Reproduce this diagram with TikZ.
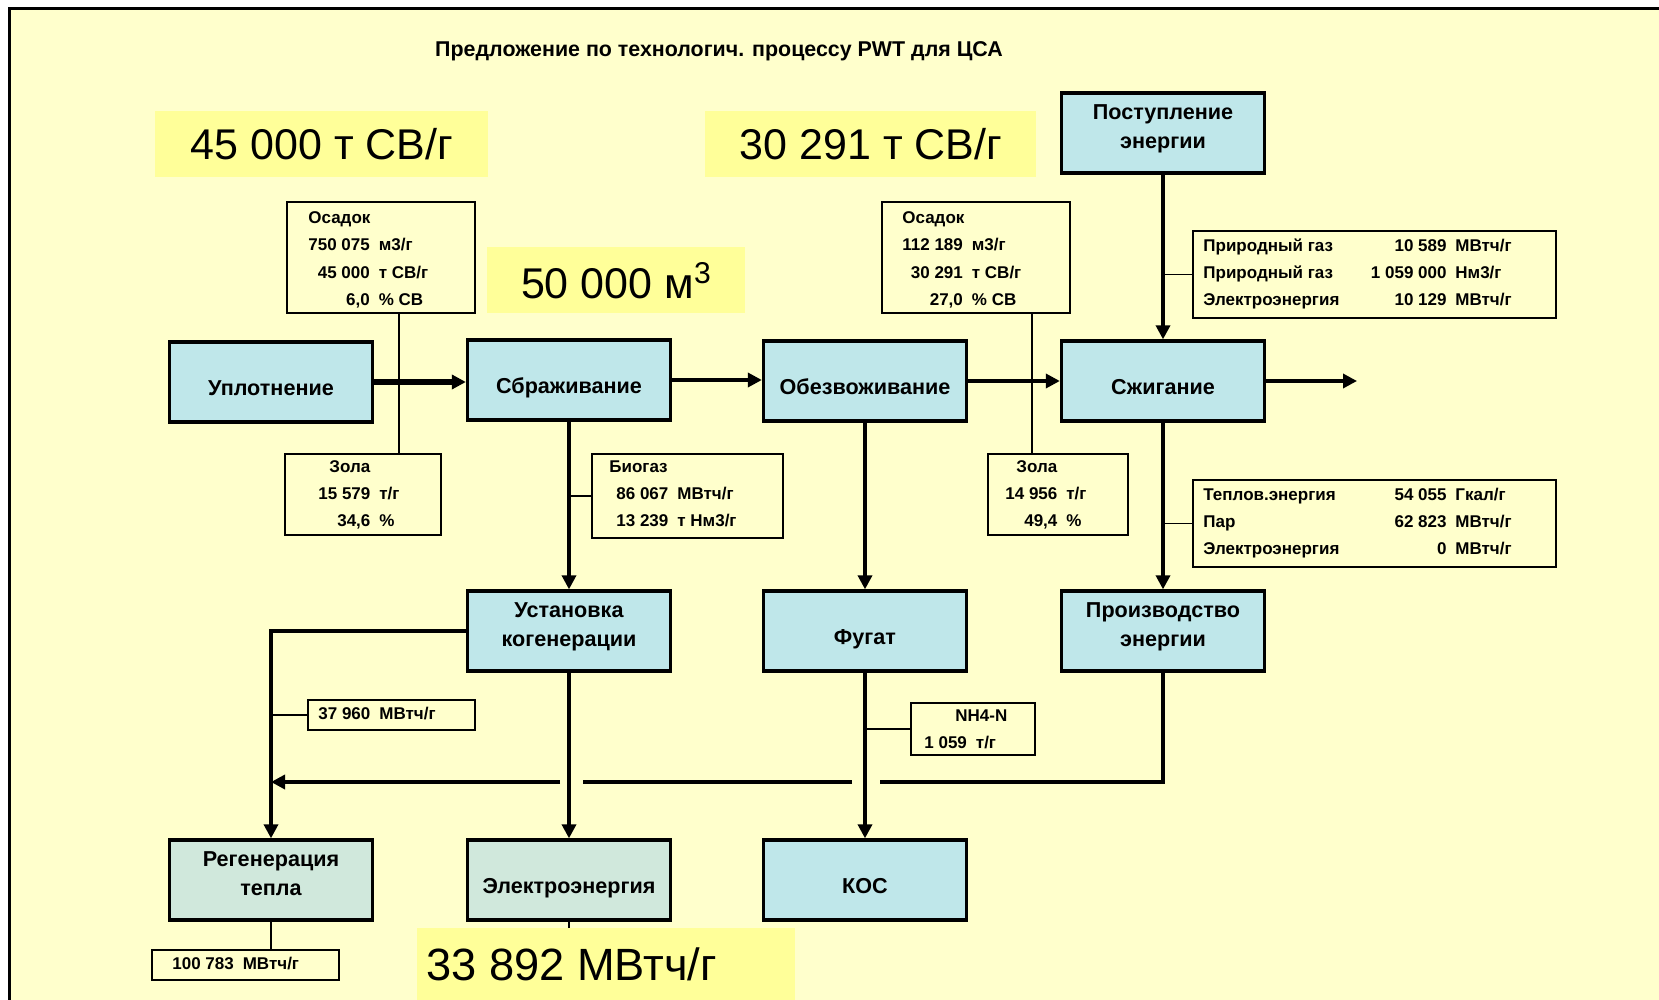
\documentclass[tikz,border=0pt]{standalone}
\usepackage{fontspec}
\setmainfont{Liberation Sans}
\usetikzlibrary{arrows.meta}
\definecolor{bgyellow}{RGB}{255,255,204}
\definecolor{hlyellow}{RGB}{255,255,153}
\definecolor{boxblue}{RGB}{191,231,234}
\definecolor{boxgreen}{RGB}{208,232,220}
\newcommand\infotab[1]{\begin{tabular}{@{}r@{\hspace{4.5pt}}l@{}}#1\end{tabular}}
\newcommand\ltab[1]{\begin{tabular}{@{}l@{}}#1\end{tabular}}
\newcommand\rtab[1]{\begin{tabular}{@{}r@{}}#1\end{tabular}}
\newcommand\twol[2]{\begin{tabular}[t]{@{}c@{}}#1\\#2\end{tabular}}
\begin{document}
\begin{tikzpicture}[x=0.5pt,y=-0.5pt,
  proc/.style={draw, line width=1.65pt, fill=boxblue, minimum width=101.5pt, minimum height=40pt,
    inner sep=0pt, font=\fontsize{10.8}{14.5}\selectfont\bfseries},
  one/.style={text height=13.8pt, text depth=0pt},
  two/.style={text height=9pt, text depth=22.7pt},
  procg/.style={proc, fill=boxgreen},
  info/.style={draw, line width=0.8pt, anchor=north west, inner sep=0pt},
  txt/.style={inner sep=0pt, font=\fontsize{8.5}{13.7}\selectfont\bfseries},
  big/.style={inner sep=0pt, font=\fontsize{22.6}{27}\selectfont},
  hlbox/.style={fill=hlyellow, anchor=north west, inner sep=0pt},
  flow/.style={line width=1.7pt, -{Triangle[length=7pt,width=7pt]}},
  flowthick/.style={line width=3pt, -{Triangle[length=7pt,width=7pt]}},
  plainflow/.style={line width=1.7pt},
  thinline/.style={line width=0.7pt},
]
\useasboundingbox (0,0) rectangle (1659,1000);
\fill[white] (0,0) rectangle (1659,1000);
\fill[bgyellow] (11,10) rectangle (1659,1000);
\fill[black] (8,7) rectangle (1659,10);
\fill[black] (8,7) rectangle (11,1000);

% title
\node[inner sep=0pt, font=\fontsize{10.7}{13}\selectfont\bfseries] (title) at (719,51)
  {Предложение по технологич. процессу PWT для ЦСА};

% highlights
\node[hlbox, minimum width=166.5pt, minimum height=33pt, font=\fontsize{21.5}{26}\selectfont] (h45) at (155,111) {45 000 т СВ/г};
\node[hlbox, minimum width=165.5pt, minimum height=33pt, font=\fontsize{21.5}{26}\selectfont] (h30) at (705,111) {30 291 т СВ/г};
\node[hlbox, minimum width=129pt, minimum height=33pt, font=\fontsize{21.5}{26}\selectfont] (h50) at (487,247) {50 000 м\textsuperscript{3}};
\node[hlbox, minimum width=189pt, minimum height=36pt] (h33) at (417,928) {};
\node[big, anchor=west] (t33) at (426,964) {33 892 МВтч/г};

% process boxes
\node[proc, one] (upl) at (271,382) {Уплотнение};
\node[proc, one] (sbr) at (569,380) {Сбраживание};
\node[proc, one] (obez) at (865,381) {Обезвоживание};
\node[proc, one] (szh) at (1163,381) {Сжигание};
\node[proc, two] (post) at (1163,133) {\twol{Поступление}{энергии}};
\node[proc, two] (ustan) at (569,631) {\twol{Установка}{когенерации}};
\node[proc, one] (fugat) at (865,631) {Фугат};
\node[proc, two] (proizv) at (1163,631) {\twol{Производство}{энергии}};
\node[procg, two] (regen) at (271,880) {\twol{Регенерация}{тепла}};
\node[procg, one] (elek) at (569,880) {Электроэнергия};
\node[proc, one] (kos) at (865,880) {КОС};

% info boxes
\node[info, minimum width=94pt, minimum height=55.5pt] (osL) at (286,201) {};
\node[txt, anchor=west] (osLt) at (308,259) {\infotab{\multicolumn{2}{@{}l@{}}{Осадок}\\ 750 075 & м3/г\\ 45 000 & т СВ/г\\ 6,0 & \% СВ}};
\node[info, minimum width=78pt, minimum height=40.5pt] (zolaL) at (284,453) {};
\node[txt, anchor=west] (zolaLt) at (318,494) {\infotab{\multicolumn{2}{@{}l@{}}{\hspace{5.5pt}Зола}\\ 15 579 & т/г\\ 34,6 & \%}};
\node[info, minimum width=95.5pt, minimum height=42pt] (bio) at (591,453) {};
\node[txt, anchor=west] (biot) at (616,494) {\infotab{\multicolumn{2}{@{}l@{}}{\hspace{-3.5pt}Биогаз}\\ 86 067 & МВтч/г\\ 13 239 & т Нм3/г}};
\node[info, minimum width=94pt, minimum height=55.5pt] (osR) at (881,201) {};
\node[txt, anchor=west] (osRt) at (902,259) {\infotab{\multicolumn{2}{@{}l@{}}{Осадок}\\ 112 189 & м3/г\\ 30 291 & т СВ/г\\ 27,0 & \% СВ}};
\node[info, minimum width=70pt, minimum height=40.5pt] (zolaR) at (987,453) {};
\node[txt, anchor=west] (zolaRt) at (1005,494) {\infotab{\multicolumn{2}{@{}l@{}}{\hspace{5.5pt}Зола}\\ 14 956 & т/г\\ 49,4 & \%}};

\node[info, minimum width=181.5pt, minimum height=43.5pt] (gas) at (1192,230) {};
\node[txt, anchor=west] (gasl) at (1203,273) {\ltab{Природный газ\\ Природный газ\\ Электроэнергия}};
\node[txt, anchor=east] (gasn) at (1447,273) {\rtab{10 589\\ 1 059 000\\ 10 129}};
\node[txt, anchor=west] (gasu) at (1455,273) {\ltab{МВтч/г\\ Нм3/г\\ МВтч/г}};

\node[info, minimum width=181.5pt, minimum height=43.5pt] (heat) at (1192,479) {};
\node[txt, anchor=west] (heatl) at (1203,522) {\ltab{Теплов.энергия\\ Пар\\ Электроэнергия}};
\node[txt, anchor=east] (heatn) at (1447,522) {\rtab{54 055\\ 62 823\\ 0}};
\node[txt, anchor=west] (heatu) at (1455,522) {\ltab{Гкал/г\\ МВтч/г\\ МВтч/г}};

\node[info, minimum width=83.5pt, minimum height=15pt] (b379) at (307,699) {};
\node[txt, anchor=west] (b379t) at (318,714) {37 960\hspace{4.5pt}МВтч/г};
\node[info, minimum width=62pt, minimum height=26pt] (nh4) at (910,702) {};
\node[txt, anchor=west] (nh4a) at (955,716) {NH4-N};
\node[txt, anchor=west] (nh4b) at (924,743) {1 059\hspace{4.5pt}т/г};
\node[info, minimum width=93.5pt, minimum height=15pt] (b100) at (151,949) {};
\node[txt, anchor=west] (b100t) at (172,964) {100 783\hspace{4.5pt}МВтч/г};

% connectors
\coordinate (cl) at (399,0);
\coordinate (cr) at (1032,0);
\coordinate (out) at (1357,381);
\coordinate (r1) at (880,782);
\coordinate (r2) at (852,782);
\coordinate (r3) at (583,782);
\coordinate (r4) at (560,782);

\draw[thinline] (cl |- osL.south) -- (cl |- zolaL.north);
\draw[thinline] (cr |- osR.south) -- (cr |- zolaR.north);
\draw[flowthick] (upl.east) -- (upl.east -| sbr.west);
\draw[flow] (sbr.east) -- (sbr.east -| obez.west);
\draw[flow] (obez.east) -- (szh.west);
\draw[flow] (szh.east) -- (out);
\draw[flow] (post.south) -- (szh.north);
\draw[thinline] (gas.west) -- (gas.west -| post.south);
\draw[flow] (sbr.south) -- (ustan.north);
\draw[thinline] (bio.west) -- (bio.west -| sbr.south);
\draw[flow] (obez.south) -- (fugat.north);
\draw[flow] (szh.south) -- (proizv.north);
\draw[thinline] (heat.west) -- (heat.west -| szh.south);
\draw[flow] (ustan.south) -- (elek.north);
\draw[flow] (fugat.south) -- (kos.north);
\draw[thinline] (nh4.west) -- (nh4.west -| fugat.south);
\draw[flow] (ustan.west) -| (regen.north);
\draw[thinline] (b379.west) -- (b379.west -| regen.north);
\draw[plainflow] (proizv.south) |- (r1);
\draw[plainflow] (r2) -- (r3);
\draw[flow] (r4) -- (r4 -| regen.north);
\draw[thinline] (regen.south) -- (regen.south |- b100.north);
\draw[thinline] (elek.south) -- (elek.south |- h33.north);
\end{tikzpicture}
\end{document}
